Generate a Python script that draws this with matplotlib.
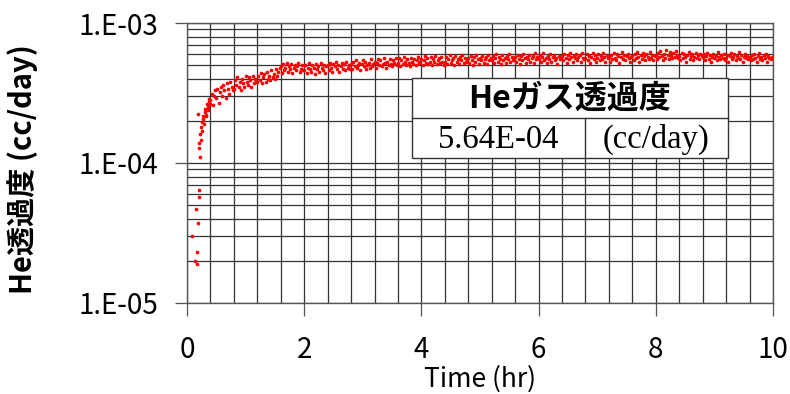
import numpy as np
import matplotlib.pyplot as plt
from matplotlib.ticker import MultipleLocator, LogLocator, FuncFormatter, NullFormatter
from matplotlib.patches import Rectangle

plt.rcParams['font.family'] = ['Noto Sans CJK JP', 'DejaVu Sans']

# first readings while the flow settles (hr, value in 1e-4 cc/day)
early_t = [0.09, 0.14, 0.165, 0.17, 0.16, 0.18, 0.20, 0.20, 0.19, 0.217, 0.20, 0.21, 0.234,
           0.22, 0.24, 0.26, 0.25, 0.27, 0.29, 0.28, 0.30, 0.32, 0.31, 0.33, 0.35, 0.34,
           0.36, 0.37, 0.38, 0.39]
early_v = [0.30, 0.20, 0.23, 0.19, 0.47, 0.37, 0.57, 0.64, 2.24, 1.10, 1.28, 1.40, 1.47,
           1.62, 1.80, 1.70, 1.95, 2.05, 1.90, 2.15, 2.30, 2.20, 2.45, 2.18, 2.50, 2.62,
           2.40, 2.75, 2.85, 2.65]

# steady part: one row = 20 readings over 0.4 hr, from 0.40 hr on (1e-4 cc/day)
band_start = 0.40
band_step = 0.02
band_rows = [
    [2.8, 3.1, 2.6, 3.0, 3.3, 2.9, 3.4, 2.7, 3.2, 3.5, 3.0, 3.6, 3.3, 2.9, 3.7, 3.4, 3.1, 3.8, 3.5, 3.3],
    [3.4, 3.9, 3.6, 4.1, 3.5, 3.8, 3.3, 4.0, 3.7, 3.5, 4.2, 3.8, 3.6, 4.1, 3.9, 3.5, 4.2, 3.7, 4.0, 3.8],
    [3.8, 4.2, 3.9, 4.4, 3.7, 4.1, 4.3, 3.8, 4.5, 4.0, 4.2, 3.9, 4.6, 4.1, 4.3, 4.0, 4.7, 4.2, 4.5, 4.8],
    [4.9, 4.4, 5.1, 4.6, 4.8, 5.2, 4.5, 4.9, 4.7, 5.1, 4.4, 4.8, 5.0, 4.6, 4.9, 5.2, 4.5, 4.7, 5.0, 4.6],
    [4.6, 5.0, 4.4, 4.8, 5.2, 4.7, 4.5, 5.0, 4.8, 4.3, 5.1, 4.7, 4.9, 4.5, 5.2, 4.8, 4.6, 5.0, 4.4, 4.9],
    [5.0, 4.6, 5.2, 4.8, 4.5, 5.1, 4.9, 5.3, 4.7, 5.0, 4.5, 4.9, 5.2, 4.7, 5.1, 4.6, 5.3, 4.8, 5.0, 4.7],
    [5.1, 4.7, 5.3, 4.9, 5.4, 4.8, 5.0, 5.2, 4.6, 5.1, 5.4, 4.9, 5.3, 4.7, 5.0, 5.2, 4.8, 5.5, 4.9, 5.1],
    [5.3, 4.8, 5.2, 5.5, 5.0, 5.4, 4.9, 5.1, 5.6, 5.2, 4.8, 5.3, 5.0, 5.5, 5.1, 4.9, 5.4, 5.2, 5.6, 5.0],
    [5.2, 5.6, 4.9, 5.4, 5.1, 5.7, 5.3, 5.0, 5.5, 5.2, 4.9, 5.6, 5.3, 5.1, 5.5, 5.0, 5.4, 5.7, 5.2, 5.3],
    [5.5, 5.0, 5.4, 5.8, 5.2, 5.6, 5.1, 5.3, 5.7, 5.0, 5.5, 5.3, 5.8, 5.1, 5.4, 5.6, 5.2, 5.7, 5.3, 5.0],
    [5.3, 5.7, 5.1, 5.5, 5.9, 5.2, 5.4, 5.6, 5.0, 5.8, 5.3, 5.5, 5.1, 5.7, 5.4, 5.9, 5.2, 5.6, 5.3, 5.5],
    [5.6, 5.2, 5.8, 5.4, 5.0, 5.7, 5.3, 5.9, 5.5, 5.1, 5.6, 5.4, 5.8, 5.2, 5.5, 5.7, 5.1, 5.9, 5.4, 5.6],
    [5.4, 5.8, 5.2, 5.6, 6.0, 5.3, 5.7, 5.5, 5.1, 5.9, 5.4, 5.6, 5.2, 5.8, 5.5, 6.0, 5.3, 5.7, 5.4, 5.6],
    [5.7, 5.3, 5.9, 5.5, 5.1, 5.8, 5.4, 6.0, 5.6, 5.2, 5.7, 5.5, 5.9, 5.3, 5.6, 5.8, 5.2, 6.1, 5.5, 5.7],
    [5.5, 5.9, 5.3, 5.7, 6.1, 5.4, 5.6, 5.2, 5.8, 5.5, 6.0, 5.3, 5.7, 5.9, 5.4, 5.6, 5.1, 5.8, 5.5, 5.7],
    [5.8, 5.4, 6.0, 5.6, 5.2, 5.9, 5.5, 6.1, 5.7, 5.3, 5.8, 5.6, 6.0, 5.4, 5.7, 5.9, 5.3, 6.1, 5.6, 5.5],
    [5.6, 6.0, 5.4, 5.8, 5.2, 5.7, 6.1, 5.5, 5.9, 5.3, 5.6, 6.0, 5.4, 5.8, 5.5, 6.1, 5.7, 5.3, 5.9, 5.6],
    [5.7, 5.3, 5.9, 5.5, 6.1, 5.6, 5.4, 6.0, 5.8, 5.2, 5.7, 6.2, 5.5, 5.9, 5.4, 5.8, 6.0, 5.6, 5.3, 5.7],
    [5.8, 5.4, 6.0, 5.6, 6.2, 5.7, 5.3, 5.9, 5.5, 6.1, 5.8, 5.4, 6.0, 5.7, 5.5, 6.2, 5.6, 5.9, 5.4, 5.8],
    [5.9, 5.5, 6.1, 5.7, 6.3, 5.8, 5.4, 6.0, 5.6, 6.4, 5.9, 5.5, 6.2, 5.8, 5.6, 6.1, 5.7, 6.3, 5.9, 5.6],
    [5.8, 5.4, 6.1, 5.6, 6.0, 5.7, 5.3, 5.9, 6.2, 5.5, 5.8, 6.0, 5.4, 5.7, 6.1, 5.6, 5.9, 5.5, 6.0, 5.8],
    [5.7, 6.0, 5.4, 5.8, 6.1, 5.5, 5.9, 5.3, 5.7, 6.0, 5.6, 5.8, 5.4, 6.2, 5.7, 5.5, 5.9, 5.6, 6.0, 5.4],
    [5.6, 5.9, 5.3, 5.8, 6.1, 5.5, 5.7, 6.0, 5.4, 5.8, 5.6, 6.2, 5.5, 5.9, 5.3, 5.7, 6.0, 5.6, 5.8, 5.5],
    [5.7, 5.4, 5.9, 5.5, 6.0, 5.6, 5.3, 5.8, 6.1, 5.5, 5.7, 5.4, 5.9, 5.6, 6.0, 5.3, 5.8, 5.6, 5.5, 5.7],
]

box_title = 'Heガス透過度'
box_value = '5.64E-04'
box_unit = '(cc/day)'

band_v = np.array(band_rows).ravel()
band_t = band_start + band_step * np.arange(len(band_v))

t = np.concatenate([early_t, band_t])
v = np.concatenate([early_v, band_v]) * 1e-4

fig = plt.figure(figsize=(7.9, 3.94), dpi=100)
ax = fig.add_axes([0.2367, 0.231, 0.7418, 0.7106])

ax.scatter(t, v, s=7, c='#ff0000', linewidths=0, zorder=3)

ax.set_yscale('log')
ax.set_xlim(0, 10)
ax.set_ylim(1e-5, 1e-3)

ax.xaxis.set_major_locator(MultipleLocator(2))
ax.xaxis.set_minor_locator(MultipleLocator(0.4))
ax.yaxis.set_major_locator(LogLocator(base=10, numticks=5))
ax.yaxis.set_minor_locator(LogLocator(base=10, subs=np.arange(2, 10), numticks=20))
ax.yaxis.set_major_formatter(FuncFormatter(lambda y, p: '1.E-%02d' % round(-np.log10(y))))
ax.yaxis.set_minor_formatter(NullFormatter())

gc = '#333333'
ax.grid(True, which='both', color=gc, lw=0.9)
ax.set_axisbelow(True)
for side in ['top', 'bottom', 'left', 'right']:
    ax.spines[side].set(color='#555555', lw=1.0)

ax.tick_params(which='major', direction='out', length=9, width=0.9, color='#555555',
               labelsize=20, pad=12)
ax.tick_params(which='minor', length=0)
ax.tick_params(axis='x', pad=14)

ax.set_xlabel('Time (hr)', fontsize=19)
ax.xaxis.set_label_coords(0.5, -0.224)
ax.set_ylabel('He透過度 (cc/day)', fontsize=21, fontweight='bold')
ax.yaxis.set_label_coords(-0.255, 0.48)

# result box
bl, br, bd = 0.3835, 0.923, 0.679
bt, bm, bb = 0.8025, 0.6596, 0.5168
ax.add_patch(Rectangle((bl, bb), br - bl, bt - bb, transform=ax.transAxes,
                       facecolor='white', edgecolor='#333333', lw=1.0, zorder=5))
ax.plot([bl, br], [bm, bm], transform=ax.transAxes, color='#333333', lw=1.0, zorder=6)
ax.plot([bd, bd], [bb, bm], transform=ax.transAxes, color='#333333', lw=1.0, zorder=6)
ax.text((bl + br) / 2, (bt + bm) / 2, box_title, transform=ax.transAxes, ha='center',
        va='center', fontsize=23, fontweight='bold', zorder=7)
ax.text((bl + bd) / 2, (bm + bb) / 2 - 0.005, box_value, transform=ax.transAxes, ha='center',
        va='center', fontsize=23.5, family='Liberation Serif', zorder=7)
ax.text((bd + br) / 2, (bm + bb) / 2 - 0.005, box_unit, transform=ax.transAxes, ha='center',
        va='center', fontsize=23.5, family='Liberation Serif', zorder=7)

plt.savefig('out.png', dpi=100)
